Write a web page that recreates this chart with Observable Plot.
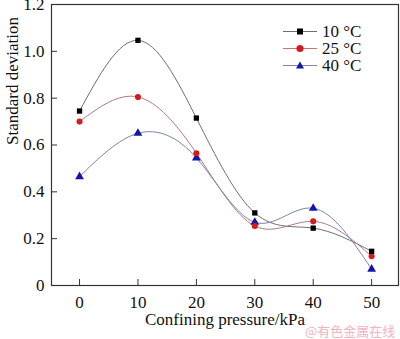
<!DOCTYPE html>
<html>
<head>
<meta charset="utf-8">
<script src="https://cdn.jsdelivr.net/npm/d3@7"></script>
<script src="https://cdn.jsdelivr.net/npm/@observablehq/plot@0.6"></script>
<style>
  html, body { margin: 0; padding: 0; background: #fff; }
  #wrap { position: relative; width: 400px; height: 339px; overflow: hidden; font-family: "Liberation Serif", "Times New Roman", Times, serif; }
  #wrap svg text { font-family: "Liberation Serif", "Times New Roman", Times, serif; }
  #legend { position: absolute; left: 283px; top: 23px; font-size: 17px; line-height: 17px; color: #111; }
  #legend .row { display: flex; align-items: center; height: 17px; line-height: 17px; }
  #legend svg { display: block; margin-right: 5px; }
  #wm { position: absolute; left: 305px; top: 321px; font-size: 13px; color: #f0b4c0; font-family: "Noto Sans CJK SC", sans-serif; white-space: nowrap; }
</style>
</head>
<body>
<div id="wrap"></div>
<script>
const pressures = [0, 10, 20, 30, 40, 50];
const seriesNames = ["10 °C", "25 °C", "40 °C"];
const sd10 = [0.745, 1.047, 0.715, 0.310, 0.245, 0.146];
const sd25 = [0.700, 0.805, 0.565, 0.254, 0.274, 0.125];
const sd40 = [0.465, 0.650, 0.545, 0.270, 0.330, 0.070];
const xTicks = [0, 10, 20, 30, 40, 50];
const yTicks = [0, 0.2, 0.4, 0.6, 0.8, 1.0, 1.2];

const lineColors = ["#6e6e6e", "#b07888", "#7c84a8"];
const markColors = ["#000000", "#d41c1c", "#1414a8"];
const symbols = ["square", "circle", "triangle"];

const values = [sd10, sd25, sd40];
const data = [];
seriesNames.forEach((s, k) => pressures.forEach((p, i) => data.push({series: s, x: p, y: values[k][i]})));

const font = '"Liberation Serif", "Times New Roman", Times, serif';
const chart = Plot.plot({
  width: 400,
  height: 339,
  marginLeft: 51,
  marginRight: 2,
  marginTop: 4,
  marginBottom: 54,
  style: {fontFamily: font, fontSize: "17px", color: "#111", background: "transparent", overflow: "visible"},
  x: {domain: [-4.8, 54.6], ticks: xTicks, label: null},
  y: {domain: [0, 1.2], ticks: yTicks, label: null},
  color: {domain: seriesNames, range: lineColors},
  symbol: {domain: seriesNames, range: symbols},
  marks: [
    Plot.frame({stroke: "#333", strokeWidth: 1.2}),
    Plot.axisX({ticks: xTicks, tickSize: -6, tickPadding: 16, stroke: "#333", tickFormat: d => String(d), fontSize: 17}),
    Plot.axisY({ticks: yTicks, tickSize: -6, tickPadding: 13, stroke: "#333", tickFormat: d => d === 0 ? "0" : d.toFixed(1), fontSize: 17}),
    Plot.line(data, {x: "x", y: "y", z: "series", stroke: "series", curve: "natural", strokeWidth: 1}),
    Plot.dot(data, {x: "x", y: "y", symbol: "series", r: d => d.series === "10 °C" ? 4.4 : d.series === "25 °C" ? 4.6 : 5.2,
      fill: d => markColors[seriesNames.indexOf(d.series)], stroke: "none"}),
    Plot.text(["Standard deviation"], {frameAnchor: "left", dx: -39, rotate: -90, text: d => d, fontSize: 17, fill: "#111"}),
    Plot.text(["Confining pressure/kPa"], {frameAnchor: "bottom", dy: 39, text: d => d, fontSize: 17, fill: "#111"})
  ]
});

const wrap = document.getElementById("wrap");
wrap.appendChild(chart);

const legend = document.createElement("div");
legend.id = "legend";
const shapes = {
  square: '<rect x="14" y="5.5" width="6" height="6"/>',
  circle: '<circle cx="17" cy="8.5" r="3.6"/>',
  triangle: '<path d="M17,4.5 L21,11.5 L13,11.5 Z"/>'
};
seriesNames.forEach((s, k) => {
  const row = document.createElement("div");
  row.className = "row";
  row.innerHTML = `<svg width="34" height="17"><line x1="0" x2="34" y1="8.5" y2="8.5" stroke="${k === 1 ? '#d07070' : lineColors[k]}" stroke-width="1"/><g fill="${markColors[k]}">${shapes[symbols[k]]}</g></svg><span>${s}</span>`;
  legend.appendChild(row);
});
wrap.appendChild(legend);

const wm = document.createElement("div");
wm.id = "wm";
wm.textContent = "@有色金属在线";
wrap.appendChild(wm);
</script>
</body>
</html>
